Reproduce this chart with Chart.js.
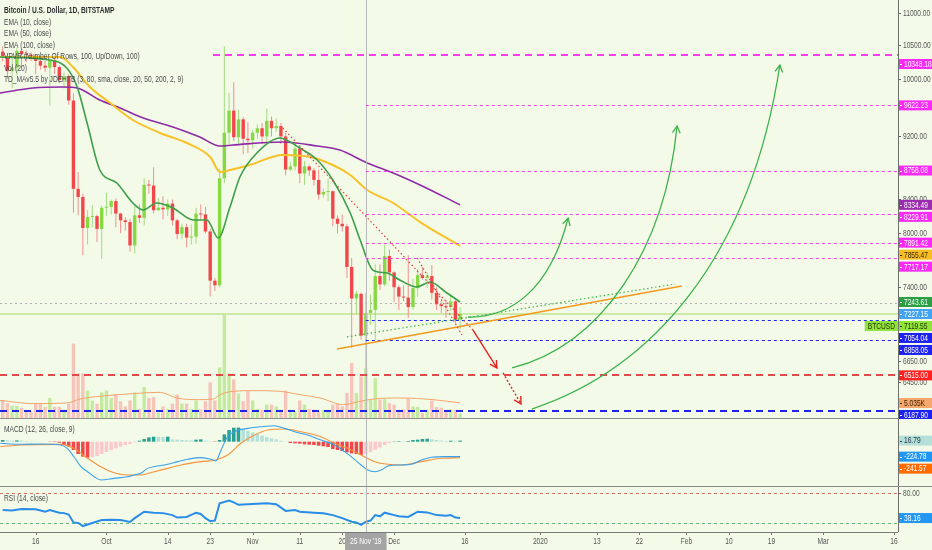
<!DOCTYPE html>
<html>
<head>
<meta charset="utf-8">
<title>Bitcoin / U.S. Dollar, 1D, BITSTAMP</title>
<script src="https://cdn.jsdelivr.net/npm/chart.js@4.4.1/dist/chart.umd.min.js"></script>
<style>
  html, body { margin: 0; padding: 0; background: #F4FAE8; }
  #wrap { position: relative; width: 932px; height: 550px; overflow: hidden; background: #F4FAE8; }
  #wrap canvas { position: absolute; left: 0; }
</style>
</head>
<body>
<div id="wrap">
  <canvas id="cMain" width="932" height="419" style="top:0px"></canvas>
  <canvas id="cMacd" width="932" height="68" style="top:419px"></canvas>
  <canvas id="cRsi" width="932" height="63" style="top:487px"></canvas>
</div>
<script>
// day index: 0 = 16 Sep 2019, one step = one day. Candles run from 9 Sep (-7) to 15 Dec (90)
const days = Array.from({ length: 98 }, (_, i) => i - 7);

const opens = [
  10400, 10310, 10110, 10160, 10410, 10360, 10350,
  10310, 10260, 10190, 10160, 10270, 10170, 9980,
  10030, 9690, 8530, 8430, 8060, 8190, 8200,
  8050, 8300, 8310, 8380, 8230, 8150, 8130,
  7860, 8210, 8180, 8580, 8570, 8270, 8300,
  8280, 8350, 8150, 7990, 8070, 7950, 7960,
  8230, 8220, 8020, 7470, 7420, 8660, 9250,
  9550, 9190, 9430, 9170, 9150, 9250, 9310,
  9200, 9410, 9310, 9340, 9200, 8770, 8810,
  9040, 8720, 8810, 8760, 8640, 8460, 8490,
  8500, 8170, 8110, 8080, 7620, 7280, 7330,
  6900, 7130, 7160, 7520, 7430, 7740, 7560,
  7400, 7300, 7290, 7190, 7390, 7530, 7500,
  7520, 7340, 7220, 7200, 7190, 7250, 7060
];
const highs = [
  10480, 10380, 10300, 10450, 10440, 10420, 10390,
  10360, 10280, 10260, 10330, 10300, 10190, 10090,
  10060, 9790, 8740, 8470, 8270, 8330, 8220,
  8330, 8480, 8400, 8410, 8240, 8190, 8170,
  8320, 8340, 8660, 8640, 8800, 8420, 8440,
  8400, 8400, 8170, 8110, 8110, 8100, 8300,
  8340, 8310, 8050, 7500, 8780, 10480, 9800,
  9950, 9560, 9460, 9390, 9290, 9360, 9380,
  9580, 9470, 9440, 9380, 9250, 8870, 9100,
  9060, 8880, 8830, 8790, 8770, 8530, 8650,
  8510, 8210, 8220, 8110, 7720, 7360, 7340,
  7340, 7320, 7650, 7650, 7870, 7810, 7570,
  7420, 7420, 7750, 7490, 7600, 7620, 7560,
  7640, 7400, 7260, 7270, 7310, 7270, 7190
];
const lows = [
  10250, 10000, 9860, 10050, 10160, 10240, 10260,
  10070, 10130, 10100, 9620, 10070, 9940, 9860,
  9630, 8240, 8210, 7750, 7870, 8070, 7900,
  7710, 8200, 8220, 8070, 8000, 8030, 7790,
  7770, 8120, 8090, 8470, 8230, 8260, 8160,
  8200, 8090, 7930, 7930, 7840, 7870, 7880,
  8160, 8000, 7300, 7360, 7400, 8600, 9100,
  9140, 9100, 8970, 8980, 9040, 9170, 9100,
  9130, 9200, 9260, 9100, 8700, 8750, 8760,
  8600, 8580, 8690, 8570, 8400, 8420, 8380,
  8080, 8000, 8020, 7500, 6780, 7110, 6860,
  6520, 7010, 6860, 7370, 7410, 7470, 7240,
  7160, 7250, 7080, 7160, 7300, 7480, 7390,
  7270, 7160, 7130, 7080, 7150, 7030, 6970
];
const closes = [
  10310, 10110, 10160, 10410, 10360, 10350, 10310,
  10260, 10190, 10160, 10270, 10170, 9980, 10030,
  9690, 8530, 8430, 8060, 8190, 8200, 8050,
  8300, 8310, 8380, 8230, 8150, 8130, 7860,
  8210, 8180, 8580, 8570, 8270, 8300, 8280,
  8350, 8150, 7990, 8070, 7950, 7960, 8230,
  8220, 8020, 7470, 7420, 8660, 9250, 9550,
  9190, 9430, 9170, 9150, 9250, 9310, 9200,
  9410, 9310, 9340, 9200, 8770, 8810, 9040,
  8720, 8810, 8760, 8640, 8460, 8490, 8500,
  8170, 8110, 8080, 7620, 7280, 7330, 6900,
  7130, 7160, 7520, 7430, 7740, 7560, 7400,
  7300, 7290, 7190, 7390, 7530, 7500, 7520,
  7340, 7220, 7200, 7190, 7250, 7060, 7119.55
];
const volume = [
  5900, 5000, 4100, 4100, 3400, 2200, 2200,
  5000, 4800, 3700, 6700, 3700, 3700, 2800,
  4800, 25000, 15000, 15000, 9200, 5800, 4800,
  8600, 9300, 6700, 8000, 5600, 3900, 5900,
  8600, 3000, 10400, 6700, 7000, 1900, 3900,
  3000, 4800, 7800, 4800, 4800, 3000, 5900,
  2800, 5600, 12000, 5900, 17000, 35000, 15000,
  13000, 8200, 5600, 9000, 5900, 3000, 2800,
  4500, 4500, 3900, 2800, 9200, 2800, 2200,
  5900, 4500, 3000, 2800, 2200, 2800, 2800,
  4500, 4800, 3900, 8400, 18500, 8400, 14000,
  16800, 6200, 13400, 6200, 6400, 5000, 4500,
  2800, 2800, 6700, 3900, 3700, 1700, 2800,
  5900, 3700, 3400, 2800, 3000, 2800, 1500
];

// indicator lines at sample days
const volMaDays = [-7.6, -0.5, 6.6, 9.4, 13.6, 20.7, 26.4, 29.9, 34.8, 37.7, 39.1, 41.9, 46.1, 51.8, 56.0, 60.3, 65.2, 68.8, 71.6, 77.2, 84.3, 90];
const volMa = [5940, 4820, 5040, 6380, 7280, 8180, 8620, 6720, 6160, 6380, 7840, 8960, 9180, 8960, 7840, 6720, 4480, 5600, 6380, 6720, 6160, 5035];

const ema10Days = [-7.6, 3.0, 6.6, 8.8, 10.9, 13.6, 17.2, 20.6, 22.8, 25.7, 29.1, 33.4, 36.3, 38.7, 41.2, 43.3, 46.9, 51.8, 56.0, 59.7, 63.0, 66.7, 68.8, 71.5, 74.5, 77.2, 80.8, 83.6, 87.2, 90];
const ema10 = [10318, 10274, 10156, 9881, 9380, 8765, 8602, 8357, 8273, 8357, 8297, 8154, 8154, 7945, 8308, 8676, 8983, 9179, 9047, 8892, 8639, 8237, 7921, 7585, 7553, 7477, 7402, 7456, 7338, 7243.61];

const ema50Days = [-7.6, 5.2, 7.9, 11.5, 15.8, 20.6, 26.4, 32.1, 37.0, 39.1, 41.2, 45.4, 52.4, 58.2, 63.0, 66.7, 70.3, 75.8, 81.5, 90];
const ema50 = [10318, 10318, 10170, 9881, 9655, 9421, 9246, 9113, 8931, 8740, 8765, 8828, 8957, 8931, 8828, 8702, 8515, 8357, 8130, 7855.47];

const ema100Days = [-7.6, -0.6, 5.8, 8.8, 13.6, 17.9, 22.8, 29.1, 34.8, 39.1, 41.8, 52.4, 59.7, 64.5, 70.3, 75.8, 81.5, 90];
const ema100 = [9796, 9867, 9881, 9867, 9697, 9586, 9448, 9326, 9192, 9074, 9087, 9127, 9074, 9021, 8854, 8727, 8577, 8334.49];

const macdHist = [
  25, 20, 15, 20, 18, 10, 8,
  5, 3, 0, -3, -6, -15, -50,
  -75, -125, -185, -225, -240, -235, -215,
  -185, -155, -125, -100, -75, -50, -35,
  -10, 15, 40, 65, 75, 72, 70,
  75, 35, 30, 25, 22, 20, 30,
  35, 15, 5, -5, 25, 110, 175,
  210, 212, 190, 165, 140, 115, 90,
  70, 50, 35, 15, 2, -20, -25,
  -30, -40, -45, -50, -60, -70, -80,
  -110, -125, -140, -160, -175, -185, -200,
  -190, -160, -125, -90, -50, -20, 5,
  8, 5, 10, 25, 30, 40, 45,
  35, 25, 18, 10, 15, 10, 16.79
];
const macdDays = [-7.5, -3.2, 1.1, 5.3, 6.7, 8.1, 9.6, 11.0, 12.4, 13.8, 16.6, 19.5, 20.9, 22.3, 23.7, 25.8, 28.0, 30.1, 32.2, 35.0, 37.2, 38.2, 39.3, 40.7, 42.1, 45.0, 47.8, 50.6, 52.8, 54.9, 57.7, 60.5, 63.4, 65.5, 67.6, 69.0, 70.4, 71.9, 73.3, 74.7, 77.5, 79.6, 81.8, 83.9, 86.7, 90];
const macdLine = [-24, -39, -35, -50, -100, -226, -376, -451, -526, -576, -551, -526, -500, -476, -401, -365, -340, -300, -265, -240, -265, -290, -125, 75, 150, 200, 225, 240, 200, 150, 100, 25, -50, -150, -265, -350, -425, -451, -425, -365, -350, -340, -275, -235, -225, -224.78];
const signalDays = [-7.5, -3.2, 5.3, 8.1, 11.0, 13.8, 16.6, 19.5, 22.3, 25.1, 28.0, 30.8, 35.0, 38.2, 40.7, 43.5, 46.4, 49.2, 52.8, 56.3, 60.5, 63.4, 66.2, 69.0, 71.9, 74.7, 77.5, 81.8, 86.0, 90];
const signalLine = [-75, -50, -40, -100, -250, -376, -466, -500, -500, -451, -401, -350, -300, -275, -200, -24, 100, 175, 190, 150, 75, -25, -100, -200, -300, -340, -350, -300, -250, -241.57];

const rsiDays = [-7, -5, -3, 0, 2, 3, 5, 6, 7, 8, 9, 10, 12, 14, 16, 18, 20, 21, 23, 25, 27, 29, 30, 32, 34, 35, 36, 37, 38, 39, 41, 42, 43, 46, 49, 51, 53, 55, 56, 59, 61, 63, 65, 67, 68, 69, 70, 71, 72, 73, 74, 76, 77, 79, 81, 83, 85, 87, 88, 89, 90];
const rsiVals = [51.5, 50.6, 53, 52.8, 48.6, 51.3, 47, 46.3, 44, 31, 30, 25, 30, 35, 35.5, 35, 31.7, 38, 48.6, 47, 46.3, 43, 39, 40, 47, 45, 38, 33, 34, 62.5, 67, 64, 60, 61.5, 62.5, 61, 50, 51.5, 48.6, 47, 46, 43, 38, 32, 31, 27, 32, 34, 43, 41, 47, 43, 41, 40, 48.6, 47.5, 43, 42, 43, 39, 38.16];
const rsiLevels = [80, 30];

// horizontal levels drawn on the chart, with the day each one starts
const levelPrices = [10348.18, 9622.23, 8758.08, 8229.91, 7891.42, 7717.17, 7054.04, 6858.05, 6515.00, 6187.90];
const levelFromDays = [37.6, 70, 70, 70, 70, 70, 70, 70, -8, -8];
const tdMaLast = 7227.15;
const refDotted = 7233;

// drawn trend lines and arrows as [day, price]
const orangeTrend = [[63.9, 6768], [137.0, 7412]];
const greenTrend = [[66.0, 6887], [135.6, 7434]];
const redTrend = [[52.4, 9313], [92.7, 6957]];
const redTrendShort = [[80.9, 7719], [90.4, 6906]];
const redArrow1 = [[92.7, 6957], [97.8, 6585]];
const redArrow2 = [[99.1, 6538], [102.9, 6251]];
// green forecast curves: start, control 1, control 2, end
const curveA = [[91.7, 7088], [100.6, 7078], [109.0, 7370], [112.9, 8177]];
const curveB = [[101.0, 6585], [120.0, 6808], [133.4, 7808], [136.0, 9340]];
const curveC = [[105.2, 6206], [130.3, 6566], [151.5, 7697], [157.8, 10200]];

// axes
const priceTicks = [11000, 10500, 10000, 9200, 8400, 8000, 7400, 6650, 6450];
const tickDays = [0, 15, 28, 37, 46, 56, 65, 76, 91, 107, 119, 128, 138, 147, 156, 167, 182];
const tickLabels = ['16', 'Oct', '14', '23', 'Nov', '11', '20', 'Dec', '16', '2020', '13', '22', 'Feb', '10', '19', 'Mar', '16'];
const crosshairDay = 70;
const crosshairLabel = "25 Nov '19";

const legendRows = [
  'Bitcoin / U.S. Dollar, 1D, BITSTAMP',
  'EMA (10, close)',
  'EMA (50, close)',
  'EMA (100, close)',
  'VPVR (Number Of Rows, 100, Up/Down, 100)',
  'Vol (20)',
  'TD_MAv5.5 by JDEHTB (3, 80, sma, close, 20, 50, 200, 2, 9)'
];

// ---------------- drawing helpers ----------------
const SX = 0.78;
const FONT = '"Liberation Sans", "DejaVu Sans", Arial, sans-serif';
const MAG = '#F53CF0';
const BLUE = '#1E22F0';

function setFont(ctx, size, weight) {
  ctx.font = (weight || 'normal') + ' ' + (size || 8.5) + 'px ' + FONT;
}
function text(ctx, s, x, y, o) {
  o = o || {};
  ctx.save();
  setFont(ctx, o.size, o.weight);
  ctx.fillStyle = o.color || '#555';
  ctx.textBaseline = 'middle';
  ctx.textAlign = o.align || 'left';
  ctx.translate(x, y);
  ctx.scale(SX, 1);
  ctx.fillText(s, 0, 0);
  ctx.restore();
}
function textWidth(ctx, s, size, weight) {
  ctx.save();
  setFont(ctx, size, weight);
  const w = ctx.measureText(s).width * SX;
  ctx.restore();
  return w;
}
function hline(ctx, x0, x1, y, color, width, dash) {
  ctx.save();
  ctx.strokeStyle = color;
  ctx.lineWidth = width;
  ctx.setLineDash(dash || []);
  const yy = width % 2 ? Math.round(y) + 0.5 : Math.round(y);
  ctx.beginPath();
  ctx.moveTo(x0, yy);
  ctx.lineTo(x1, yy);
  ctx.stroke();
  ctx.restore();
}
function vline(ctx, x, y0, y1, color) {
  ctx.save();
  ctx.strokeStyle = color;
  ctx.lineWidth = 1;
  ctx.beginPath();
  ctx.moveTo(Math.round(x) + 0.5, y0);
  ctx.lineTo(Math.round(x) + 0.5, y1);
  ctx.stroke();
  ctx.restore();
}
function arrowHead(ctx, x0, y0, x1, y1, size) {
  const a = Math.atan2(y1 - y0, x1 - x0);
  ctx.setLineDash([]);
  ctx.beginPath();
  ctx.moveTo(x1 - size * Math.cos(a - 0.5), y1 - size * Math.sin(a - 0.5));
  ctx.lineTo(x1, y1);
  ctx.lineTo(x1 - size * Math.cos(a + 0.5), y1 - size * Math.sin(a + 0.5));
  ctx.stroke();
}
// value boxes on the right price scale, pushed apart when they overlap
function axisBoxes(ctx, items, x0, w) {
  items.sort((a, b) => a.y - b.y);
  let prev = -1e9;
  items.forEach(it => {
    const y = Math.max(it.y, prev + 12);
    prev = y;
    ctx.fillStyle = it.bg;
    ctx.fillRect(x0, y - 5, w, 10);
    if (it.tag) {
      const tw = textWidth(ctx, it.tag, 8.5) + 6;
      ctx.fillRect(x0 - tw - 1, y - 5, tw, 10);
      text(ctx, it.tag, x0 - tw + 2, y + 0.5, { color: it.fg });
    }
    ctx.fillStyle = it.fg;
    ctx.fillRect(x0 + 1, Math.round(y), 2, 1);
    text(ctx, it.text, x0 + 5, y + 0.5, { color: it.fg });
  });
}
function axisLine(chart) {
  const { ctx, chartArea: a } = chart;
  vline(ctx, a.right, 0, a.bottom, '#6F6F6F');
}
function crosshair(chart) {
  const { ctx, chartArea: a, scales: { x } } = chart;
  vline(ctx, x.getPixelForValue(crosshairDay), a.top, a.bottom, '#B9B9B9');
}

// ---------------- main price pane ----------------
const up = closes.map((c, i) => c >= opens[i]);
const bodyColors = up.map(u => (u ? '#86D943' : '#F0474A'));
const wickColors = up.map(u => (u ? '#A3DC83' : '#F2908F'));
const volColors = up.map(u => (u ? '#C4EA9F' : '#F6C4B9'));

const xAxis = { type: 'linear', min: -7.57, max: 182.85, display: false, offset: false, bounds: 'data' };

function pts(xs, ys) { return xs.map((d, i) => ({ x: d, y: ys[i] })); }

const mainOverlay = {
  id: 'mainOverlay',
  beforeDatasetsDraw(chart) {
    const { ctx, chartArea: a, scales: { y } } = chart;
    hline(ctx, a.left, a.right, y.getPixelForValue(refDotted), '#B4B4B4', 1, [2, 3]);
    hline(ctx, a.left, a.right, y.getPixelForValue(closes[closes.length - 1]), 'rgba(176,222,120,0.6)', 2);
  },
  afterDatasetsDraw(chart) {
    const { ctx, chartArea: a, scales: { x, y } } = chart;
    const P = pt => [x.getPixelForValue(pt[0]), y.getPixelForValue(pt[1])];
    ctx.save();
    ctx.beginPath();
    ctx.rect(a.left, a.top, a.right - a.left, a.bottom - a.top);
    ctx.clip();

    crosshair(chart);

    // horizontal levels
    levelPrices.forEach((p, i) => {
      const heavy = i === 0 || i >= 8;
      const color = i <= 5 ? MAG : (i === 8 ? '#E0484A' : BLUE);
      hline(ctx, Math.max(a.left, x.getPixelForValue(levelFromDays[i])), a.right,
        y.getPixelForValue(p), color, heavy ? 2 : 1, heavy ? [7, 5] : [3, 3]);
    });

    // trend lines
    const seg = (line, color, width, dash) => {
      const [p0, p1] = [P(line[0]), P(line[1])];
      ctx.strokeStyle = color;
      ctx.lineWidth = width;
      ctx.setLineDash(dash);
      ctx.beginPath();
      ctx.moveTo(p0[0], p0[1]);
      ctx.lineTo(p1[0], p1[1]);
      ctx.stroke();
      return [p0, p1];
    };
    seg(orangeTrend, '#F39A1E', 1.6, []);
    seg(greenTrend, '#3DB84A', 1.2, [1.5, 2.5]);
    seg(redTrend, '#E2403C', 1.2, [1.5, 2.5]);
    seg(redTrendShort, '#E2403C', 1.2, [1.5, 2.5]);
    let r = seg(redArrow1, '#E2231F', 1.4, []);
    arrowHead(ctx, r[0][0], r[0][1], r[1][0], r[1][1], 8);
    r = seg(redArrow2, '#E2231F', 1.4, [2, 2]);
    arrowHead(ctx, r[0][0], r[0][1], r[1][0], r[1][1], 8);

    // green forecast curves
    [curveA, curveB, curveC].forEach(c => {
      const [s, c1, c2, e] = c.map(P);
      ctx.strokeStyle = '#3BB24A';
      ctx.lineWidth = 1.3;
      ctx.setLineDash([]);
      ctx.beginPath();
      ctx.moveTo(s[0], s[1]);
      ctx.bezierCurveTo(c1[0], c1[1], c2[0], c2[1], e[0], e[1]);
      ctx.stroke();
      arrowHead(ctx, c2[0], c2[1], e[0], e[1], 8);
    });
    ctx.restore();
  },
  afterDraw(chart) {
    const { ctx, chartArea: a, scales: { y, yv } } = chart;
    legendRows.forEach((s, i) =>
      text(ctx, s, 4, 11 + i * 11.5, { color: i ? '#4A4A4A' : '#2E2E2E', weight: i ? 'normal' : 'bold' }));
    axisLine(chart);
    hline(ctx, 0, chart.width, a.bottom, '#8C8C8C', 1);
    priceTicks.forEach(v => {
      const py = y.getPixelForValue(v);
      hline(ctx, a.right, a.right + 3, py, '#666', 1);
      text(ctx, v.toFixed(2), a.right + 5, py + 0.5, { color: '#555' });
    });
    const magBoxes = [0, 1, 2, 3, 4, 5].map(i => ({
      y: y.getPixelForValue(levelPrices[i]) + (i === 0 ? 9 : 0),
      text: levelPrices[i].toFixed(2), bg: '#FA2AF6', fg: '#fff'
    }));
    const items = magBoxes.concat([
      { y: y.getPixelForValue(ema100[ema100.length - 1]), text: ema100[ema100.length - 1].toFixed(2), bg: '#9A2CAE', fg: '#fff' },
      { y: y.getPixelForValue(ema50[ema50.length - 1]), text: ema50[ema50.length - 1].toFixed(2), bg: '#F8BD24', fg: '#3A2A00' },
      { y: y.getPixelForValue(ema10[ema10.length - 1]), text: ema10[ema10.length - 1].toFixed(2), bg: '#2E9E45', fg: '#fff' },
      { y: y.getPixelForValue(tdMaLast), text: tdMaLast.toFixed(2), bg: '#42A3F0', fg: '#fff' },
      { y: y.getPixelForValue(closes[closes.length - 1]), text: closes[closes.length - 1].toFixed(2), bg: '#92E23C', fg: '#1E3300', tag: 'BTCUSD' },
      { y: y.getPixelForValue(levelPrices[6]), text: levelPrices[6].toFixed(2), bg: BLUE, fg: '#fff' },
      { y: y.getPixelForValue(levelPrices[7]), text: levelPrices[7].toFixed(2), bg: BLUE, fg: '#fff' },
      { y: y.getPixelForValue(levelPrices[8]), text: levelPrices[8].toFixed(2), bg: '#FF2020', fg: '#fff' },
      { y: yv.getPixelForValue(volMa[volMa.length - 1]), text: (volMa[volMa.length - 1] / 1000).toFixed(3) + 'K', bg: '#F6A86C', fg: '#3A2000' },
      { y: y.getPixelForValue(levelPrices[9]), text: levelPrices[9].toFixed(2), bg: BLUE, fg: '#fff' }
    ]);
    axisBoxes(ctx, items, a.right + 1, chart.width - a.right - 1);
  }
};

new Chart(document.getElementById('cMain'), {
  type: 'bar',
  data: {
    datasets: [
      { type: 'bar', data: pts(days, volume), yAxisID: 'yv', backgroundColor: volColors, grouped: false, order: 20 },
      { type: 'line', data: pts(volMaDays, volMa), yAxisID: 'yv', borderColor: '#F2A46A', borderWidth: 1, pointRadius: 0, cubicInterpolationMode: 'monotone', order: 19 },
      { type: 'bar', data: days.map((d, i) => ({ x: d, y: [lows[i], highs[i]] })), yAxisID: 'y', backgroundColor: wickColors, maxBarThickness: 1, grouped: false, order: 8 },
      { type: 'bar', data: days.map((d, i) => ({ x: d, y: [opens[i], closes[i]] })), yAxisID: 'y', backgroundColor: bodyColors, minBarLength: 1, grouped: false, order: 7 },
      { type: 'line', data: pts(ema100Days, ema100), yAxisID: 'y', borderColor: '#8E2AA6', borderWidth: 1.6, pointRadius: 0, cubicInterpolationMode: 'monotone', order: 3 },
      { type: 'line', data: pts(ema50Days, ema50), yAxisID: 'y', borderColor: '#F7C228', borderWidth: 2, pointRadius: 0, cubicInterpolationMode: 'monotone', order: 2 },
      { type: 'line', data: pts(ema10Days, ema10), yAxisID: 'y', borderColor: '#3D9E4A', borderWidth: 1.6, pointRadius: 0, cubicInterpolationMode: 'monotone', order: 1 }
    ]
  },
  options: {
    responsive: false, animation: false, events: [],
    layout: { padding: { left: 0, right: 34, top: 0, bottom: 1 } },
    plugins: { legend: { display: false }, tooltip: { enabled: false } },
    scales: {
      x: Object.assign({}, xAxis),
      y: { type: 'logarithmic', min: 6126, max: 11204, display: false, bounds: 'data' },
      yv: { type: 'linear', min: 0, max: 140300, display: false, bounds: 'data' }
    }
  },
  plugins: [mainOverlay]
});

// ---------------- MACD pane ----------------
const histColors = macdHist.map((h, i) => {
  const p = i ? macdHist[i - 1] : h;
  if (h >= 0) return h >= p ? '#2AA193' : '#B5E0D9';
  return h <= p ? '#F0484A' : '#FBC8CC';
});

const macdOverlay = {
  id: 'macdOverlay',
  afterDatasetsDraw(chart) { crosshair(chart); },
  afterDraw(chart) {
    const { ctx, chartArea: a, scales: { y } } = chart;
    text(ctx, 'MACD (12, 26, close, 9)', 4, 11, { color: '#4A4A4A' });
    axisLine(chart);
    hline(ctx, 0, chart.width, chart.height - 1, '#8C8C8C', 1);
    const h = macdHist[macdHist.length - 1], m = macdLine[macdLine.length - 1], s = signalLine[signalLine.length - 1];
    axisBoxes(ctx, [
      { y: y.getPixelForValue(h), text: h.toFixed(2), bg: '#B5E0D9', fg: '#234' },
      { y: y.getPixelForValue(m), text: m.toFixed(2), bg: '#2196F3', fg: '#fff' },
      { y: y.getPixelForValue(s), text: s.toFixed(2), bg: '#FF6D00', fg: '#fff' }
    ], a.right + 1, chart.width - a.right - 1);
  }
};

new Chart(document.getElementById('cMacd'), {
  type: 'bar',
  data: {
    datasets: [
      { type: 'bar', data: pts(days, macdHist), backgroundColor: histColors, barPercentage: 0.75, categoryPercentage: 1, grouped: false, order: 5 },
      { type: 'line', data: pts(signalDays, signalLine), borderColor: '#F5923A', borderWidth: 1.1, pointRadius: 0, cubicInterpolationMode: 'monotone', order: 2 },
      { type: 'line', data: pts(macdDays, macdLine), borderColor: '#3A9FEA', borderWidth: 1.1, pointRadius: 0, cubicInterpolationMode: 'monotone', order: 1 }
    ]
  },
  options: {
    responsive: false, animation: false, events: [],
    layout: { padding: { left: 0, right: 34, top: 0, bottom: 0 } },
    plugins: { legend: { display: false }, tooltip: { enabled: false } },
    scales: {
      x: Object.assign({}, xAxis),
      y: { type: 'linear', min: -681, max: 341, display: false, bounds: 'data' }
    }
  },
  plugins: [macdOverlay]
});

// ---------------- RSI pane + time axis ----------------
const rsiOverlay = {
  id: 'rsiOverlay',
  beforeDatasetsDraw(chart) {
    const { ctx, chartArea: a, scales: { y } } = chart;
    hline(ctx, a.left, a.right, y.getPixelForValue(rsiLevels[0]), '#E06A6A', 1, [3, 3]);
    hline(ctx, a.left, a.right, y.getPixelForValue(rsiLevels[1]), '#66B96E', 1, [3, 3]);
  },
  afterDatasetsDraw(chart) { crosshair(chart); },
  afterDraw(chart) {
    const { ctx, chartArea: a, scales: { x, y } } = chart;
    text(ctx, 'RSI (14, close)', 4, 12, { color: '#4A4A4A' });
    axisLine(chart);
    hline(ctx, 0, a.right, a.bottom, '#7A7A7A', 1);
    // price-scale tick for the upper band
    const y80 = y.getPixelForValue(rsiLevels[0]);
    hline(ctx, a.right, a.right + 3, y80, '#666', 1);
    text(ctx, rsiLevels[0].toFixed(2), a.right + 5, y80 + 0.5, { color: '#555' });
    const last = rsiVals[rsiVals.length - 1];
    axisBoxes(ctx, [{ y: y.getPixelForValue(last), text: last.toFixed(2), bg: '#2196F3', fg: '#fff' }],
      a.right + 1, chart.width - a.right - 1);
    // time axis
    tickDays.forEach((d, i) => {
      const px = x.getPixelForValue(d);
      vline(ctx, px, a.bottom, a.bottom + 3, '#7A7A7A');
      text(ctx, tickLabels[i], px, a.bottom + 10, { align: 'center', color: '#555' });
    });
    const cx = x.getPixelForValue(crosshairDay);
    const w = textWidth(ctx, crosshairLabel, 8.5) + 10;
    ctx.fillStyle = '#A4A4A4';
    ctx.fillRect(cx - w / 2, a.bottom + 1, w, chart.height - a.bottom);
    text(ctx, crosshairLabel, cx, a.bottom + 10, { align: 'center', color: '#fff' });
  }
};

new Chart(document.getElementById('cRsi'), {
  type: 'line',
  data: {
    datasets: [
      { data: pts(rsiDays, rsiVals), borderColor: '#2A8CE8', borderWidth: 2, pointRadius: 0, tension: 0 }
    ]
  },
  options: {
    responsive: false, animation: false, events: [],
    layout: { padding: { left: 0, right: 34, top: 0, bottom: 18 } },
    plugins: { legend: { display: false }, tooltip: { enabled: false } },
    scales: {
      x: Object.assign({}, xAxis),
      y: { type: 'linear', min: 15.15, max: 89.4, display: false, bounds: 'data' }
    }
  },
  plugins: [rsiOverlay]
});
</script>
</body>
</html>
